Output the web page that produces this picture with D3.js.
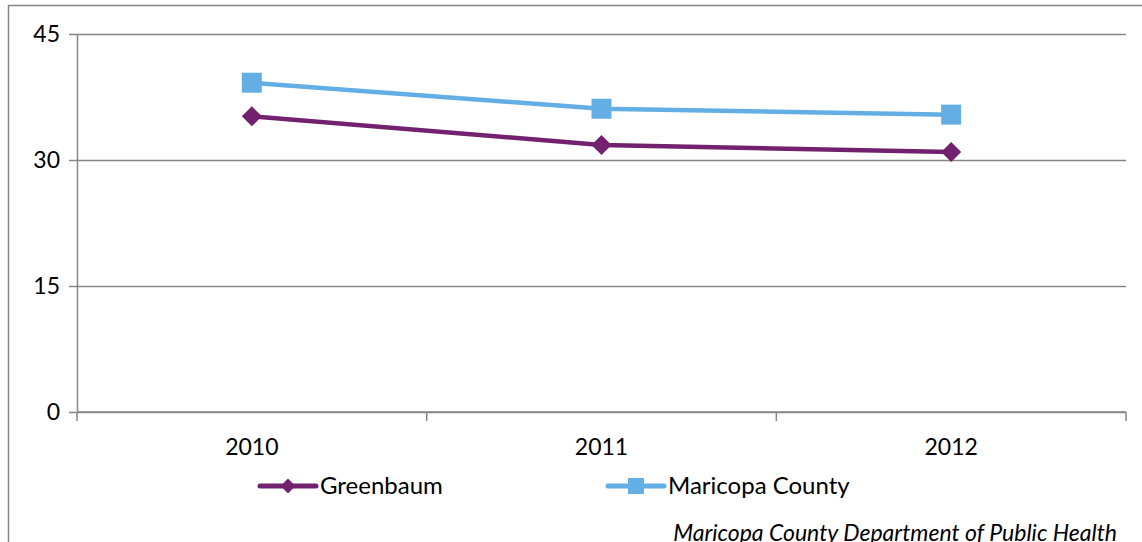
<!DOCTYPE html>
<html>
<head>
<meta charset="utf-8">
<script src="https://cdn.jsdelivr.net/npm/d3@7"></script>
<style>
  body { margin: 0; background: #fff; }
  text { font-family: Lato, 'Open Sans', sans-serif; fill: #000; }
</style>
</head>
<body>
<script>
// chart data
var years = ['2010', '2011', '2012']
var greenbaum = [35.2, 31.8, 30.95]
var maricopa = [39.2, 36.1, 35.4]
var yTicks = [0, 15, 30, 45]
var seriesNames = ['Greenbaum', 'Maricopa County']
var source = 'Maricopa County Department of Public Health'

var W = 1142
var H = 542
var plotLeft = 77
var plotRight = 1126
var plotTop = 34
var plotBottom = 412

var gridColor = '#868686'
var purple = '#71216d'
var blue = '#63aee4'

var svg = d3.select('body').append('svg')
  .attr('width', W)
  .attr('height', H)

// outer frame (clipped at right/bottom like the original)
svg.append('rect')
  .attr('x', 8.5).attr('y', 5.5)
  .attr('width', W + 20).attr('height', H + 20)
  .attr('fill', 'none')
  .attr('stroke', gridColor)
  .attr('stroke-width', 1.5)

var x = d3.scaleBand().domain(years).range([plotLeft, plotRight]).padding(0)
var y = d3.scaleLinear().domain([0, 45]).range([plotBottom, plotTop])
var cx = function (d) { return x(d) + x.bandwidth() / 2 }

// y axis with gridlines
var yAxis = d3.axisLeft(y)
  .tickValues(yTicks)
  .tickSize(-(plotRight - plotLeft))
  .tickSizeOuter(0)
  .tickPadding(17)

var gy = svg.append('g')
  .attr('transform', 'translate(' + plotLeft + ',0)')
  .call(yAxis)
gy.select('.domain').attr('stroke', gridColor).attr('stroke-width', 1.5)
gy.selectAll('.tick line')
  .attr('x1', -8)
  .attr('stroke', gridColor).attr('stroke-width', 1.5)
gy.selectAll('.tick text')
  .attr('font-family', null)
  .attr('font-size', null)
  .style('font-size', '23px')

// x axis with ticks at category boundaries
var gx = svg.append('g')
  .attr('transform', 'translate(0,' + plotBottom + ')')
gx.append('line')
  .attr('x1', plotLeft).attr('x2', plotRight)
  .attr('stroke', gridColor).attr('stroke-width', 1.5)
var bounds = years.map(function (d) { return x(d) }).concat([plotRight])
gx.selectAll('.xt')
  .data(bounds)
  .enter().append('line')
  .attr('class', 'xt')
  .attr('x1', function (d) { return d }).attr('x2', function (d) { return d })
  .attr('y1', 0).attr('y2', 9)
  .attr('stroke', gridColor).attr('stroke-width', 1.5)
gx.selectAll('.xl')
  .data(years)
  .enter().append('text')
  .attr('class', 'xl')
  .attr('x', cx)
  .attr('y', 43)
  .attr('text-anchor', 'middle')
  .style('font-size', '23px')
  .text(function (d) { return d })

// lines
var line = d3.line()
  .x(function (d, i) { return cx(years[i]) })
  .y(function (d) { return y(d) })

svg.append('path')
  .attr('d', line(maricopa))
  .attr('fill', 'none')
  .attr('stroke', blue)
  .attr('stroke-width', 4.5)

svg.append('path')
  .attr('d', line(greenbaum))
  .attr('fill', 'none')
  .attr('stroke', purple)
  .attr('stroke-width', 4.5)

// markers
var diamond = d3.symbol().type(d3.symbolSquare).size(200)
var square = d3.symbol().type(d3.symbolSquare).size(400)

svg.selectAll('.sq')
  .data(maricopa)
  .enter().append('path')
  .attr('class', 'sq')
  .attr('d', square)
  .attr('transform', function (d, i) { return 'translate(' + cx(years[i]) + ',' + y(d) + ')' })
  .attr('fill', blue)

svg.selectAll('.dm')
  .data(greenbaum)
  .enter().append('path')
  .attr('class', 'dm')
  .attr('d', diamond)
  .attr('transform', function (d, i) { return 'translate(' + cx(years[i]) + ',' + y(d) + ') rotate(45)' })
  .attr('fill', purple)

// legend
var legend = [
  { name: seriesNames[0], color: purple, x: 260, shape: 'diamond' },
  { name: seriesNames[1], color: blue, x: 608, shape: 'square' }
]
var lg = svg.selectAll('.lg')
  .data(legend)
  .enter().append('g')
  .attr('class', 'lg')
  .attr('transform', function (d) { return 'translate(' + d.x + ',486)' })
lg.append('line')
  .attr('x1', 0).attr('x2', 56)
  .attr('stroke', function (d) { return d.color })
  .attr('stroke-width', 5)
  .attr('stroke-linecap', 'round')
lg.append('path')
  .attr('d', function (d) {
    return d.shape === 'diamond'
      ? d3.symbol().type(d3.symbolSquare).size(110)()
      : d3.symbol().type(d3.symbolSquare).size(256)()
  })
  .attr('transform', function (d) { return 'translate(28,0)' + (d.shape === 'diamond' ? ' rotate(45)' : '') })
  .attr('fill', function (d) { return d.color })
lg.append('text')
  .attr('x', 60)
  .attr('y', 8)
  .style('font-size', '24px')
  .text(function (d) { return d.name })

// source note
svg.append('text')
  .attr('x', 1117)
  .attr('y', 541)
  .attr('text-anchor', 'end')
  .style('font-size', '23px')
  .style('font-style', 'italic')
  .text(source)
</script>
</body>
</html>
